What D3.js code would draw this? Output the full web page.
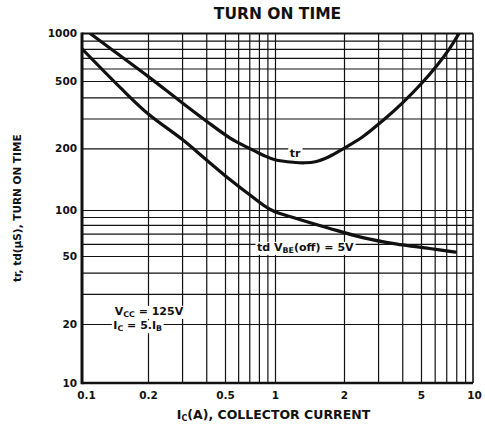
<!DOCTYPE html>
<html>
<head>
<meta charset="utf-8">
<script src="https://cdnjs.cloudflare.com/ajax/libs/d3/7.8.5/d3.min.js"></script>
<style>
body { margin: 0; background: #fff; }
text { font-family: "DejaVu Sans", sans-serif; font-weight: bold; fill: #111; }
.grid line { stroke: #111; stroke-width: 1.2; }
.grid path { display: none; }
.tick-labels path, .tick-labels line { display: none; }
.curve { fill: none; stroke: #111; stroke-width: 3.2; stroke-linecap: round; }
</style>
</head>
<body>
<script>
// tick values and labels
var xTicks = [0.1, 0.2, 0.5, 1, 2, 5, 10];
var yTicks = [10, 20, 50, 100, 200, 500, 1000];
var xGrid = [0.2, 0.3, 0.4, 0.5, 0.6, 0.7, 0.8, 0.9, 1, 2, 3, 4, 5, 6, 7, 8, 9];
var yGrid = [20, 30, 40, 50, 60, 70, 80, 90, 100, 200, 300, 400, 500, 600, 700, 800, 900];

// tr curve (us vs A)
var icTr = [0.109, 0.15, 0.2, 0.3, 0.4, 0.54, 0.7, 0.85, 1.0, 1.2, 1.35, 1.5, 1.72, 2, 2.5, 3.2, 4, 5, 6.2, 7.3, 8.3];
var tr   = [1000, 720, 535, 372, 290, 229, 200, 185, 176, 171, 170, 172, 182, 200, 234, 294, 370, 480, 630, 800, 1000];

// td curve, VBE(off) = 5V
var icTd = [0.1, 0.15, 0.2, 0.3, 0.4, 0.54, 0.71, 0.95, 1.24, 1.72, 2.5, 3.7, 5.6, 7.9];
var td   = [800, 455, 320, 226, 176, 140, 118, 100, 88, 76, 66, 60, 56, 53];

// set the dimensions and margins of the graph
var margin = {top: 33.5, right: 12, bottom: 45, left: 82},
    width = 485 - margin.left - margin.right,
    height = 428 - margin.top - margin.bottom;

// set the ranges
// the printed grid is not a true log grid, so the scale is pinned at each labelled tick
var x = d3.scaleLog().domain(xTicks).range([0, 66, 143, 193, 262, 339, 391]);
var y = d3.scaleLog().domain(yTicks).range([height, 290.5, 222.5, 176.5, 114.8, 47.5, 0]);

var svg = d3.select("body").append("svg")
    .attr("width", width + margin.left + margin.right)
    .attr("height", height + margin.top + margin.bottom)
  .append("g")
    .attr("transform", "translate(" + margin.left + "," + margin.top + ")");

svg.append("clipPath").attr("id", "plot-clip")
  .append("rect").attr("width", width).attr("height", height);

// grid lines
svg.append("g")
    .attr("class", "grid")
    .attr("transform", "translate(0," + height + ")")
    .call(d3.axisBottom(x).tickValues(xGrid).tickSize(-height).tickFormat(""));

svg.append("g")
    .attr("class", "grid")
    .call(d3.axisLeft(y).tickValues(yGrid).tickSize(-width).tickFormat(""));

// frame
svg.append("line").attr("x1", 0).attr("x2", width).attr("y1", 0).attr("y2", 0)
    .attr("stroke", "#111").attr("stroke-width", 2);
svg.append("line").attr("x1", width).attr("x2", width).attr("y1", 0).attr("y2", height)
    .attr("stroke", "#111").attr("stroke-width", 1.6);
svg.append("line").attr("x1", 0).attr("x2", width).attr("y1", height).attr("y2", height)
    .attr("stroke", "#111").attr("stroke-width", 2.6);
svg.append("line").attr("x1", 0).attr("x2", 0).attr("y1", -1).attr("y2", height + 1.3)
    .attr("stroke", "#111").attr("stroke-width", 3);

// the curves
var line = d3.line()
    .curve(d3.curveCatmullRom)
    .x(function(d) { return x(d[0]); })
    .y(function(d) { return y(d[1]); });

svg.append("path")
    .datum(d3.zip(icTr, tr))
    .attr("class", "curve")
    .attr("clip-path", "url(#plot-clip)")
    .attr("d", line);

svg.append("path")
    .datum(d3.zip(icTd, td))
    .attr("class", "curve")
    .attr("clip-path", "url(#plot-clip)")
    .attr("d", line);

// tick labels
var xAxis = svg.append("g")
    .attr("class", "tick-labels")
    .attr("transform", "translate(0," + height + ")")
    .call(d3.axisBottom(x).tickValues(xTicks).tickSize(0).tickPadding(9).tickFormat(d3.format("")));
xAxis.selectAll("text").style("font-size", "10.5px").attr("fill", "#111").attr("dy", "0.71em");
xAxis.selectAll("text").filter(function(d) { return d === 0.1; }).attr("dx", 4);
xAxis.selectAll("text").filter(function(d) { return d === 10; }).attr("dx", 1);

var yAxis = svg.append("g")
    .attr("class", "tick-labels")
    .call(d3.axisLeft(y).tickValues(yTicks).tickSize(0).tickPadding(5).tickFormat(d3.format("")));
yAxis.selectAll("text").style("font-size", "10.5px").attr("fill", "#111");

// title
svg.append("text")
    .attr("x", width / 2)
    .attr("y", -15)
    .style("text-anchor", "middle")
    .style("font-size", "15.5px")
    .text("TURN ON TIME");

// x axis title
var xt = svg.append("text")
    .attr("x", width / 2 - 4)
    .attr("y", height + 36)
    .style("text-anchor", "middle")
    .style("font-size", "12.5px");
xt.append("tspan").text("I");
xt.append("tspan").attr("dy", 2).style("font-size", "8px").text("C");
xt.append("tspan").attr("dy", -2).text("(A), COLLECTOR CURRENT");

// y axis title
svg.append("text")
    .attr("transform", "rotate(-90)")
    .attr("x", -height / 2)
    .attr("y", -61)
    .style("text-anchor", "middle")
    .style("font-size", "10.5px")
    .text("tr, td(\u03bcS), TURN ON TIME");

// curve labels, with a white box behind so grid lines break around them
function label(xv, yv, parts, size) {
  var g = svg.append("g");
  var t = g.append("text")
      .attr("x", x(xv))
      .attr("y", y(yv))
      .style("font-size", size + "px");
  parts.forEach(function(p) {
    var s = t.append("tspan").text(p[0]);
    if (p[1] === "sub") s.attr("dy", 2).style("font-size", (size * 0.72) + "px");
    if (p[1] === "up") s.attr("dy", -2);
  });
  var b = t.node().getBBox();
  g.insert("rect", "text")
      .attr("x", b.x - 1.5).attr("y", b.y + 1)
      .attr("width", b.width + 3).attr("height", b.height - 1)
      .attr("fill", "#fff");
}

label(1.16, 182, [["tr"]], 11);
label(0.78, 54, [["td  V"], ["BE", "sub"], ["(off) = 5V", "up"]], 11);
label(0.141, 22.6, [["V"], ["CC", "sub"], [" = 125V", "up"]], 11);
label(0.139, 18.8, [["I"], ["C", "sub"], [" = 5.I", "up"], ["B", "sub"]], 11);
</script>
</body>
</html>
